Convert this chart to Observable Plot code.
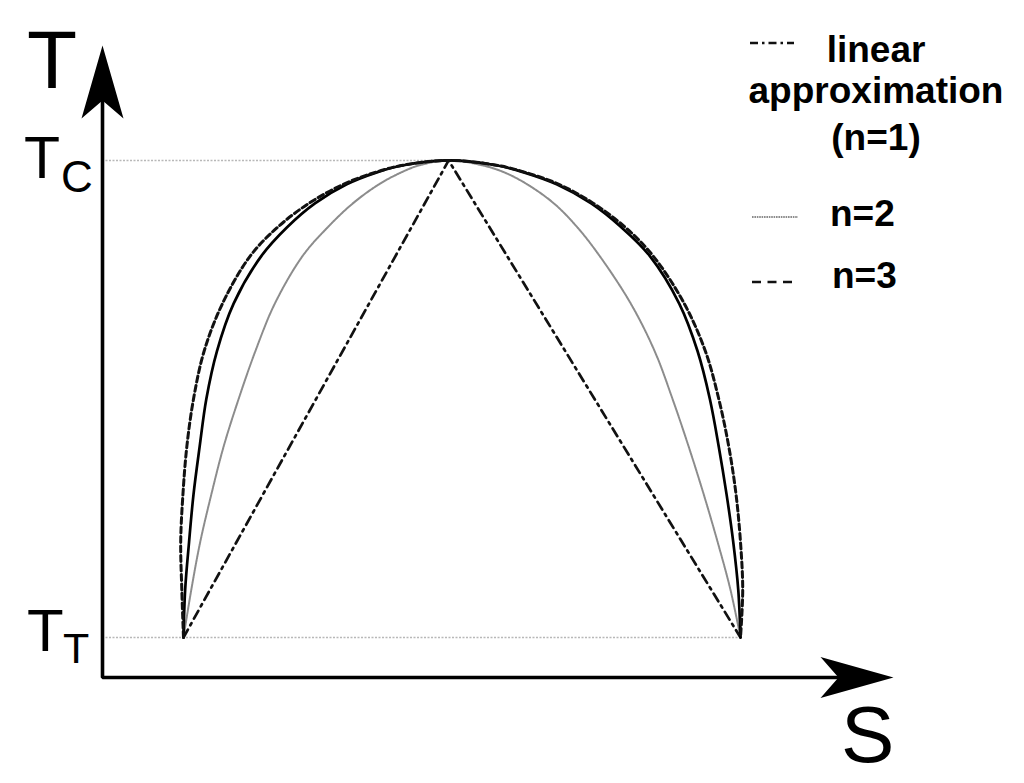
<!DOCTYPE html>
<html>
<head>
<meta charset="utf-8">
<script src="https://cdn.jsdelivr.net/npm/d3@7"></script>
<script src="https://cdn.jsdelivr.net/npm/@observablehq/plot@0.6"></script>
<style>
  html, body { margin: 0; padding: 0; background: #fff; }
  #chart { position: relative; width: 1024px; height: 783px; }
</style>
</head>
<body>
<div id="chart"></div>
<script>
// ---- Data (S normalised: 0 = left end, 1 = right end; T: 0 = T_T, 1 = T_C) ----
const linearS = [0, 0.476, 1];
const linearT = [0, 1, 0];

// T levels at which the curve S values were read (bottom -> peak)
const tGrid = [0, 0.1, 0.2, 0.3, 0.4, 0.5, 0.6, 0.7, 0.8, 0.86, 0.91, 0.95, 0.975, 0.99, 1];

// n = 2 (grey)
const n2Left  = [0, 0.014, 0.030, 0.050, 0.072, 0.099, 0.129, 0.164, 0.214, 0.259, 0.304, 0.351, 0.391, 0.424, 0.476];
const n2Right = [1.000, 0.982, 0.959, 0.934, 0.907, 0.878, 0.846, 0.803, 0.747, 0.707, 0.665, 0.617, 0.576, 0.536, 0.476];

// solid black curve
const solidLeft  = [0, 0.003, 0.010, 0.018, 0.029, 0.041, 0.060, 0.090, 0.140, 0.186, 0.236, 0.293, 0.347, 0.395, 0.476];
const solidRight = [1.000, 0.996, 0.987, 0.975, 0.961, 0.945, 0.923, 0.890, 0.837, 0.786, 0.732, 0.670, 0.611, 0.561, 0.476];

// n = 3 (dashed)
const n3Left  = [0, -0.003, -0.005, -0.001, 0.006, 0.018, 0.037, 0.070, 0.120, 0.169, 0.225, 0.287, 0.344, 0.394, 0.476];
const n3Right = [1.000, 1.004, 1.000, 0.992, 0.979, 0.961, 0.937, 0.899, 0.843, 0.793, 0.736, 0.674, 0.614, 0.562, 0.476];

const levelNames = ["T_C", "T_T"];
const levelT = [1, 0];
const levelEndS = [0.476, 1];

const legendLabels = [["linear", "approximation", "(n=1)"], ["n=2"], ["n=3"]];

// ---- Build tables ----
const zip = (S, T) => S.map((s, i) => ({s, t: T[i]}));
const dome = (L, R) => [
  ...tGrid.map((t, i) => ({s: L[i], t})),
  ...tGrid.map((t, i) => ({s: R[i], t})).reverse().slice(1)
];
const linear = zip(linearS, linearT);
const n2 = dome(n2Left, n2Right);
const solid = dome(solidLeft, solidRight);
const n3 = dome(n3Left, n3Right);
const levels = levelNames.map((name, i) => ({name, t: levelT[i], s2: levelEndS[i]}));

const xMin = -0.1454, xMax = 1.2747;
const yMin = -0.0839, yMax = 1.241;
const tPerPx = (yMax - yMin) / 632;
const sPerPx = (xMax - xMin) / 791;

// custom arrowhead symbols (tip at the origin)
const arrowUp = {draw(ctx) { ctx.moveTo(0, 0); ctx.lineTo(21, 73); ctx.lineTo(0, 55); ctx.lineTo(-21, 73); ctx.closePath(); }};
const arrowRight = {draw(ctx) { ctx.moveTo(0, 0); ctx.lineTo(-73, -20.5); ctx.lineTo(-55, 0); ctx.lineTo(-73, 20.5); ctx.closePath(); }};

const axisPath = [
  {s: xMin, t: yMax - 40 * tPerPx},
  {s: xMin, t: yMin},
  {s: xMax - 40 * sPerPx, t: yMin}
];

const chart = Plot.plot({
  width: 1024,
  height: 783,
  marginLeft: 102,
  marginRight: 131,
  marginTop: 45,
  marginBottom: 106,
  x: {domain: [xMin, xMax], axis: null},
  y: {domain: [yMin, yMax], axis: null},
  style: {background: "white"},
  marks: [
    // dotted reference levels
    Plot.ruleY(levels, {y: "t", x1: xMin, x2: "s2", stroke: "#b8b8b8", strokeWidth: 1.5, strokeDasharray: "2,1.5"}),
    // curves
    Plot.line(n2, {x: "s", y: "t", curve: "catmull-rom", stroke: "#8c8c8c", strokeWidth: 2, strokeDasharray: "1.6,0.8"}),
    Plot.line(linear, {x: "s", y: "t", stroke: "#111", strokeWidth: 2.7, strokeDasharray: "9,5,2.5,5"}),
    Plot.line(solid, {x: "s", y: "t", curve: "catmull-rom", stroke: "#000", strokeWidth: 2.7}),
    Plot.line(n3, {x: "s", y: "t", curve: "catmull-rom", stroke: "#111", strokeWidth: 3, strokeDasharray: "6,3.5"}),
    // axes
    Plot.line(axisPath, {x: "s", y: "t", stroke: "#000", strokeWidth: 3.6, strokeLinejoin: "miter"}),
    Plot.dot([{s: xMin, t: yMax}], {x: "s", y: "t", symbol: arrowUp, fill: "#000", stroke: "none"}),
    Plot.dot([{s: xMax, t: yMin}], {x: "s", y: "t", symbol: arrowRight, fill: "#000", stroke: "none"})
  ]
});

document.getElementById("chart").appendChild(chart);

// ---- Labels and legend ----
const svg = d3.select(chart);
const yS = chart.scale("y");
const font = "'Liberation Sans', Arial, Helvetica, sans-serif";

function txt(x, y, str, size, weight = "normal", anchor = "start") {
  svg.append("text").attr("x", x).attr("y", y).attr("font-family", font)
    .attr("font-size", size).attr("font-weight", weight).attr("text-anchor", anchor)
    .attr("fill", "#000").text(str);
}

// axis titles
txt(27, 88, "T", 82);
txt(841, 762, "S", 80);
// level labels, positioned from the y scale
const yC = yS.apply(levelT[0]);
const yT = yS.apply(levelT[1]);
txt(24, yC + 18, "T", 59);
txt(61, yC + 32, "C", 44);
txt(27, yT + 14, "T", 60);
txt(63, yT + 26, "T", 43);

// legend
const lg = svg.append("g");
lg.append("line").attr("x1", 750).attr("x2", 794).attr("y1", 43).attr("y2", 43)
  .attr("stroke", "#111").attr("stroke-width", 2.5).attr("stroke-dasharray", "8,4,2.5,4");
lg.append("line").attr("x1", 752).attr("x2", 798).attr("y1", 217).attr("y2", 217)
  .attr("stroke", "#8c8c8c").attr("stroke-width", 2).attr("stroke-dasharray", "1.6,0.8");
lg.append("line").attr("x1", 752).attr("x2", 797).attr("y1", 282).attr("y2", 282)
  .attr("stroke", "#111").attr("stroke-width", 2.6).attr("stroke-dasharray", "9,6.5");

txt(876, 62, legendLabels[0][0], 37, "bold", "middle");
txt(876, 103, legendLabels[0][1], 37, "bold", "middle");
txt(876, 150, legendLabels[0][2], 37, "bold", "middle");
txt(830, 226, legendLabels[1][0], 37, "bold");
txt(832, 288, legendLabels[2][0], 37, "bold");
</script>
</body>
</html>
